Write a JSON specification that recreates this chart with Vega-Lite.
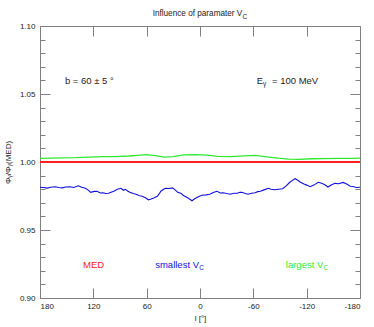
{
  "$schema": "https://vega.github.io/schema/vega-lite/v6.json",
  "width": 320,
  "height": 272,
  "autosize": {"type": "none"},
  "padding": {"left": 40, "top": 26, "right": 14, "bottom": 29},
  "background": "white",
  "config": {
    "font": "Liberation Sans",
    "view": {"stroke": "#808080", "strokeWidth": 1},
    "axis": {"grid": false, "domain": false, "tickColor": "#808080", "tickWidth": 1, "labelFont": "Liberation Sans", "labelFontSize": 8, "labelColor": "#222222", "titleFont": "Liberation Sans", "titleFontSize": 8, "titleFontWeight": "normal", "titleColor": "#222222"}
  },
  "datasets": {
    "red": [{"l": 180, "v": 1.0}, {"l": 0, "v": 1.0}, {"l": -180, "v": 1.0}],
    "green": [
      {"l": 180, "v": 1.0026}, {"l": 168, "v": 1.0028}, {"l": 155, "v": 1.0031}, {"l": 140, "v": 1.0032}, {"l": 125, "v": 1.0036}, {"l": 110, "v": 1.0039},
      {"l": 95, "v": 1.0040}, {"l": 80, "v": 1.0044}, {"l": 70, "v": 1.0049}, {"l": 60, "v": 1.0054}, {"l": 50, "v": 1.0047}, {"l": 40, "v": 1.0036},
      {"l": 30, "v": 1.0040}, {"l": 18, "v": 1.0052}, {"l": 5, "v": 1.0054}, {"l": -8, "v": 1.0050}, {"l": -20, "v": 1.0042}, {"l": -35, "v": 1.0040},
      {"l": -50, "v": 1.0045}, {"l": -62, "v": 1.0048}, {"l": -75, "v": 1.0038}, {"l": -88, "v": 1.0028}, {"l": -100, "v": 1.0021}, {"l": -112, "v": 1.0020},
      {"l": -125, "v": 1.0024}, {"l": -140, "v": 1.0025}, {"l": -155, "v": 1.0026}, {"l": -168, "v": 1.0027}, {"l": -180, "v": 1.0028}
    ],
    "blue": [
      {"l": 180, "v": 0.9814}, {"l": 176, "v": 0.9812}, {"l": 172, "v": 0.9808}, {"l": 168, "v": 0.9814}, {"l": 163, "v": 0.9818}, {"l": 159, "v": 0.9812},
      {"l": 155, "v": 0.9810}, {"l": 151, "v": 0.9816}, {"l": 146, "v": 0.9818}, {"l": 142, "v": 0.9813}, {"l": 137, "v": 0.9825}, {"l": 133, "v": 0.9815},
      {"l": 129, "v": 0.9807}, {"l": 126, "v": 0.9795}, {"l": 123, "v": 0.9777}, {"l": 119, "v": 0.9784}, {"l": 116, "v": 0.9785}, {"l": 112, "v": 0.9772},
      {"l": 109, "v": 0.9774}, {"l": 106, "v": 0.9768}, {"l": 103, "v": 0.9770}, {"l": 100, "v": 0.9778}, {"l": 97, "v": 0.9785}, {"l": 93, "v": 0.9800},
      {"l": 89, "v": 0.9807}, {"l": 86, "v": 0.9792}, {"l": 84, "v": 0.9799}, {"l": 81, "v": 0.9785}, {"l": 79, "v": 0.9777}, {"l": 75, "v": 0.9768},
      {"l": 72, "v": 0.9763}, {"l": 68, "v": 0.9752}, {"l": 65, "v": 0.9748}, {"l": 61, "v": 0.9735}, {"l": 58, "v": 0.9722}, {"l": 55, "v": 0.9728},
      {"l": 52, "v": 0.9735}, {"l": 48, "v": 0.9748}, {"l": 46, "v": 0.9765}, {"l": 44, "v": 0.9785}, {"l": 41, "v": 0.9800}, {"l": 39, "v": 0.9807},
      {"l": 35, "v": 0.9805}, {"l": 31, "v": 0.9810}, {"l": 28, "v": 0.9795}, {"l": 25, "v": 0.9777}, {"l": 21, "v": 0.9768}, {"l": 19, "v": 0.9755},
      {"l": 16, "v": 0.9745}, {"l": 13, "v": 0.9733}, {"l": 11, "v": 0.9724}, {"l": 9, "v": 0.9715}, {"l": 6, "v": 0.9730}, {"l": 3, "v": 0.9741},
      {"l": 0, "v": 0.9750}, {"l": -2, "v": 0.9755}, {"l": -7, "v": 0.9758}, {"l": -11, "v": 0.9763}, {"l": -15, "v": 0.9775}, {"l": -19, "v": 0.9785},
      {"l": -23, "v": 0.9772}, {"l": -26, "v": 0.9774}, {"l": -30, "v": 0.9768}, {"l": -34, "v": 0.9763}, {"l": -38, "v": 0.9770}, {"l": -42, "v": 0.9770},
      {"l": -45, "v": 0.9778}, {"l": -47, "v": 0.9777}, {"l": -51, "v": 0.9768}, {"l": -54, "v": 0.9763}, {"l": -58, "v": 0.9770}, {"l": -62, "v": 0.9774},
      {"l": -65, "v": 0.9782}, {"l": -68, "v": 0.9785}, {"l": -72, "v": 0.9795}, {"l": -77, "v": 0.9807}, {"l": -80, "v": 0.9800}, {"l": -84, "v": 0.9796},
      {"l": -88, "v": 0.9800}, {"l": -93, "v": 0.9803}, {"l": -97, "v": 0.9825}, {"l": -101, "v": 0.9851}, {"l": -104, "v": 0.9865}, {"l": -107, "v": 0.9877},
      {"l": -110, "v": 0.9866}, {"l": -113, "v": 0.9851}, {"l": -117, "v": 0.9838}, {"l": -120, "v": 0.9830}, {"l": -124, "v": 0.9818}, {"l": -128, "v": 0.9830},
      {"l": -133, "v": 0.9851}, {"l": -136, "v": 0.9845}, {"l": -140, "v": 0.9835}, {"l": -144, "v": 0.9816}, {"l": -148, "v": 0.9832}, {"l": -152, "v": 0.9843},
      {"l": -156, "v": 0.9840}, {"l": -161, "v": 0.9850}, {"l": -165, "v": 0.9838}, {"l": -169, "v": 0.9822}, {"l": -172, "v": 0.9820}, {"l": -176, "v": 0.9812},
      {"l": -180, "v": 0.9814}
    ],
    "leftTexts": [
      {"t": "b = 60 ± 5 °", "l": 152, "v": 1.0596, "s": "black"},
      {"t": "= 100 MeV", "l": -81, "v": 1.0596, "s": "black"},
      {"t": "MED", "l": 131.5, "v": 0.9244, "s": "MED"}
    ],
    "rightTexts": [
      {"t": "E", "l": -70.9, "v": 1.0596, "s": "black"},
      {"t": "smallest V", "l": 1.1, "v": 0.9244, "s": "smallest"},
      {"t": "largest V", "l": -138.7, "v": 0.9244, "s": "largest"}
    ],
    "titleText": [
      {"t": "Influence of paramater V", "l": -47.6, "v": 1.1088, "s": "black"}
    ],
    "subs": [
      {"t": "C", "l": -47.8, "v": 1.1088, "s": "black"},
      {"t": "γ", "l": -71, "v": 1.0596, "s": "black"},
      {"t": "C", "l": 0.9, "v": 0.9244, "s": "smallest"},
      {"t": "C", "l": -138.9, "v": 0.9244, "s": "largest"}
    ]
  },
  "layer": [
    {
      "data": {"name": "red"},
      "mark": {"type": "line", "color": "#ff2020", "strokeWidth": 2},
      "encoding": {
        "x": {"field": "l", "type": "quantitative", "scale": {"domain": [-180, 180], "reverse": true, "nice": false, "zero": false},
          "axis": {"orient": "bottom", "values": [-180, -120, -60, 0, 60, 120, 180], "tickSize": -10, "labelPadding": 14, "labelExpr": "datum.value + ''", "title": "l [°]", "titlePadding": 4}},
        "y": {"field": "v", "type": "quantitative", "scale": {"domain": [0.9, 1.1], "nice": false, "zero": false},
          "axis": {"orient": "left", "values": [0.9, 0.95, 1.0, 1.05, 1.1], "tickSize": -10, "labelPadding": 15, "format": ".2f", "title": "Φᵧ/Φᵧ(MED)", "titlePadding": 7}}
      }
    },
    {
      "data": {"name": "green"},
      "mark": {"type": "line", "color": "#30e830", "strokeWidth": 1.3},
      "encoding": {
        "x": {"field": "l", "type": "quantitative", "axis": {"orient": "top", "values": [-120, -60, 0, 60, 120], "tickSize": -10, "labels": false, "title": null}},
        "y": {"field": "v", "type": "quantitative", "axis": {"orient": "right", "values": [0.9, 0.95, 1.0, 1.05, 1.1], "tickSize": -10, "labels": false, "title": null}}
      }
    },
    {
      "data": {"name": "blue"},
      "mark": {"type": "line", "color": "#1010e0", "strokeWidth": 1.1},
      "encoding": {
        "x": {"field": "l", "type": "quantitative", "axis": null},
        "y": {"field": "v", "type": "quantitative", "axis": {"orient": "left", "values": [0.91, 0.92, 0.93, 0.94, 0.96, 0.97, 0.98, 0.99, 1.01, 1.02, 1.03, 1.04, 1.06, 1.07, 1.08, 1.09], "tickSize": -5, "labels": false, "title": null}}
      }
    },
    {
      "data": {"name": "leftTexts"},
      "mark": {"type": "text", "align": "left", "baseline": "middle", "fontSize": 9.5, "clip": false},
      "encoding": {
        "x": {"field": "l", "type": "quantitative", "axis": null},
        "y": {"field": "v", "type": "quantitative", "axis": {"orient": "right", "values": [0.91, 0.92, 0.93, 0.94, 0.96, 0.97, 0.98, 0.99, 1.01, 1.02, 1.03, 1.04, 1.06, 1.07, 1.08, 1.09], "tickSize": -5, "labels": false, "title": null}},
        "text": {"field": "t"},
        "color": {"field": "s", "type": "nominal", "scale": {"domain": ["black", "MED", "smallest", "largest"], "range": ["#222222", "#ff2020", "#1010e0", "#30e830"]}, "legend": null}
      }
    },
    {
      "data": {"name": "rightTexts"},
      "mark": {"type": "text", "align": "right", "baseline": "middle", "fontSize": 9.5, "clip": false},
      "encoding": {
        "x": {"field": "l", "type": "quantitative", "axis": null},
        "y": {"field": "v", "type": "quantitative", "axis": null},
        "text": {"field": "t"},
        "color": {"field": "s", "type": "nominal", "legend": null}
      }
    },
    {
      "data": {"name": "titleText"},
      "mark": {"type": "text", "align": "right", "baseline": "middle", "fontSize": 8.2, "clip": false},
      "encoding": {
        "x": {"field": "l", "type": "quantitative", "axis": null},
        "y": {"field": "v", "type": "quantitative", "axis": null},
        "text": {"field": "t"},
        "color": {"field": "s", "type": "nominal", "legend": null}
      }
    },
    {
      "data": {"name": "subs"},
      "mark": {"type": "text", "align": "left", "baseline": "middle", "fontSize": 6.5, "dy": 3, "clip": false},
      "encoding": {
        "x": {"field": "l", "type": "quantitative", "axis": null},
        "y": {"field": "v", "type": "quantitative", "axis": null},
        "text": {"field": "t"},
        "color": {"field": "s", "type": "nominal", "legend": null}
      }
    }
  ],
  "resolve": {"axis": {"x": "independent", "y": "independent"}}
}
